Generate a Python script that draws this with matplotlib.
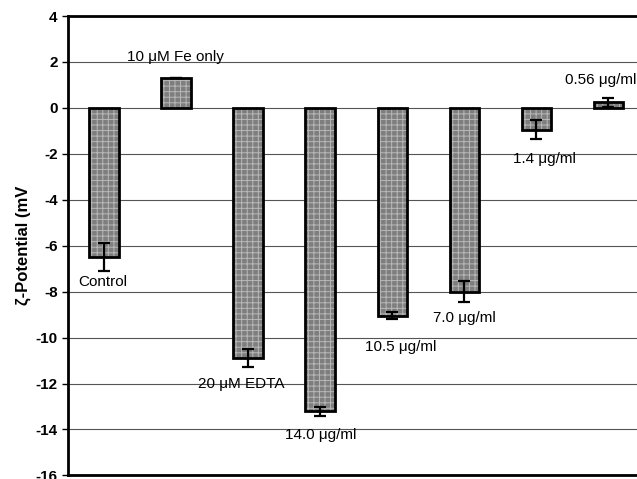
import matplotlib
matplotlib.use("Agg")
import matplotlib.pyplot as plt

plt.rcParams['font.family'] = ['Liberation Sans', 'DejaVu Sans']
plt.rcParams['hatch.linewidth'] = 0.7

categories = ["Control", "10 \u03bcM Fe only", "20 \u03bcM EDTA", "14.0 \u03bcg/ml",
              "10.5 \u03bcg/ml", "7.0 \u03bcg/ml", "1.4 \u03bcg/ml", "0.56 \u03bcg/ml"]
zeta = [-6.5, 1.3, -10.9, -13.2, -9.05, -8.0, -0.95, 0.25]
zeta_err = [0.6, 0.0, 0.4, 0.2, 0.15, 0.45, 0.42, 0.2]
# label anchor (x offset in category units, y in mV)
label_pos = [(-0.36, -7.6), (-0.68, 2.2), (-0.69, -12.0), (-0.49, -14.25),
             (-0.375, -10.4), (-0.44, -9.15), (-0.32, -2.22), (-0.61, 1.2)]
yticks = list(range(-16, 5, 2))

fig = plt.figure(figsize=(6.37, 4.79), dpi=100)
ax = fig.add_axes([0.1068, 0.0075, 0.905, 0.959])

x = list(range(len(categories)))
ax.set_axisbelow(True)
ax.yaxis.grid(True, color="#555555", linewidth=0.8)

# textured fill, then a solid outline
ax.bar(x, zeta, width=0.41, color="#7e7e7e", edgecolor="#b8b8b8",
       hatch="+++", linewidth=0, zorder=2)
ax.bar(x, zeta, width=0.41, fill=False, edgecolor="black", linewidth=2, zorder=3)
ax.errorbar(x, zeta, yerr=zeta_err, fmt="none", ecolor="black",
            elinewidth=1.6, capsize=4, capthick=1.6, zorder=4)

for i, (name, (dx, ty)) in enumerate(zip(categories, label_pos)):
    ax.text(i + dx, ty, name, fontsize=11, ha="left", va="center", zorder=5)

ax.set_xlim(-0.5, 7.5)
ax.set_ylim(-16, 4)
ax.set_yticks(yticks)
ax.set_yticklabels([str(t) for t in yticks], fontsize=11, fontweight="bold")
ax.set_xticks([])
ax.tick_params(axis="y", direction="out", length=4, width=1)

for side in ("left", "top", "bottom"):
    ax.spines[side].set_linewidth(2)
ax.spines["right"].set_visible(False)

ax.set_ylabel("\u03b6-Potential (mV", fontsize=12, fontweight="bold", labelpad=3)

fig.savefig("out.png", dpi=100)
